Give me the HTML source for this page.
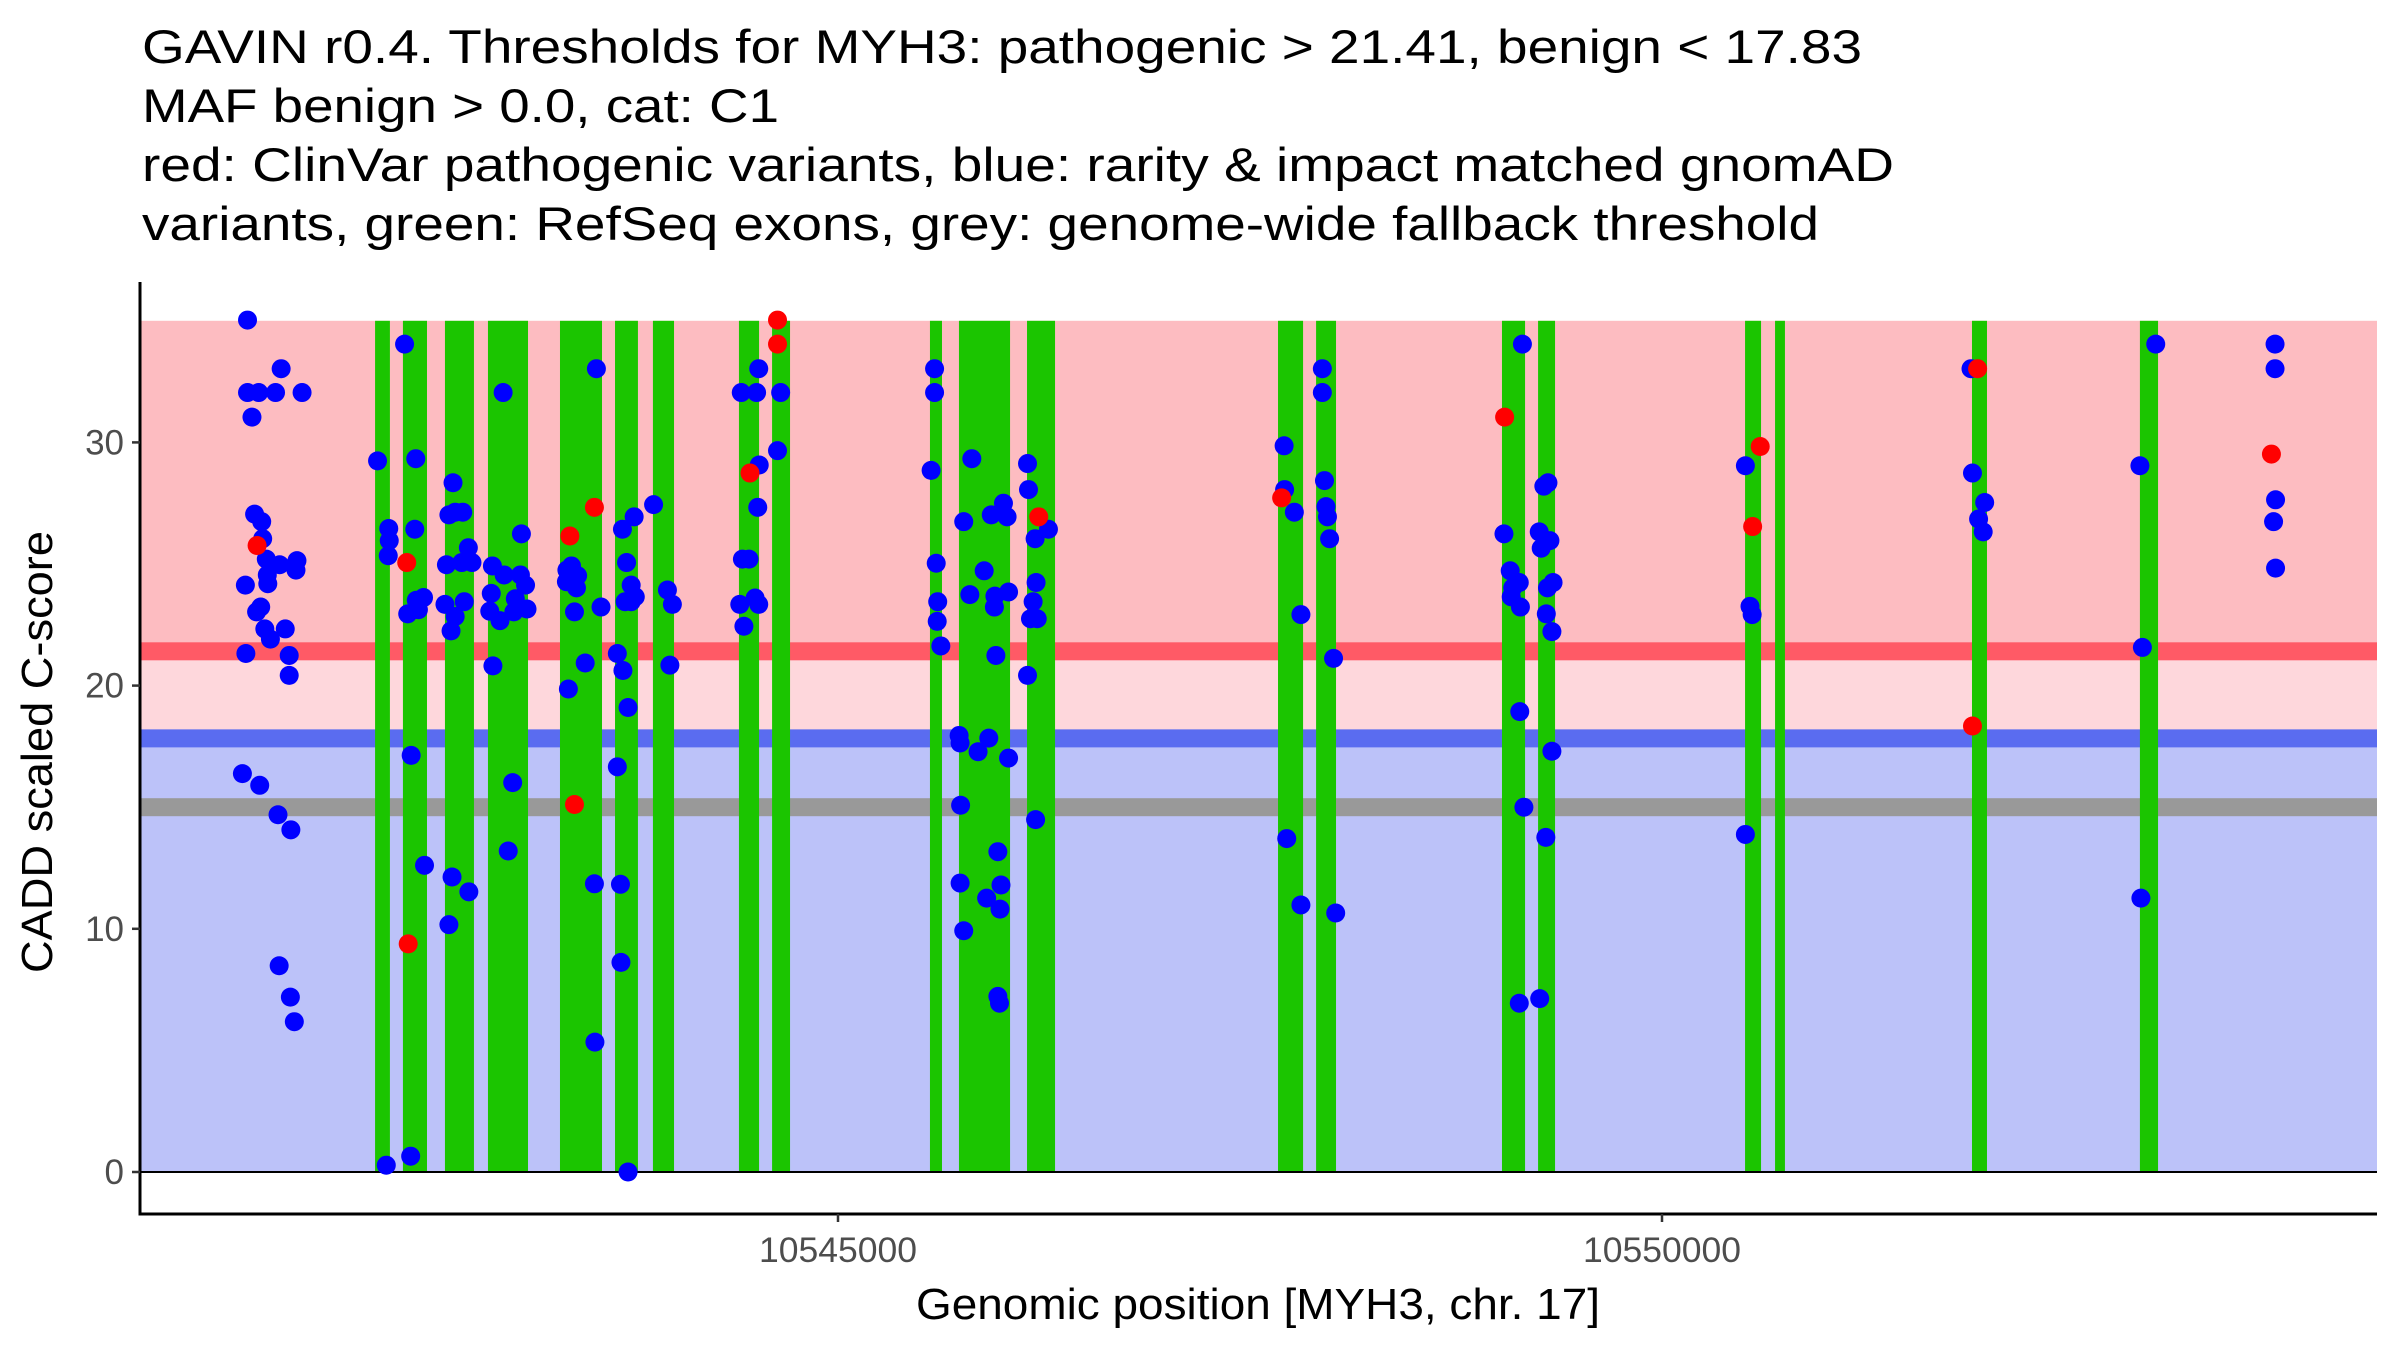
<!DOCTYPE html>
<html><head><meta charset="utf-8"><style>
html,body{margin:0;padding:0;background:#fff;}
svg{display:block;}
text{font-family:"Liberation Sans",Arial,sans-serif;}
</style></head><body>
<svg id="chart" width="2400" height="1350" viewBox="0 0 2400 1350" xmlns="http://www.w3.org/2000/svg">
<g font-size="47" fill="#000">
<text x="142" y="63" textLength="1720" lengthAdjust="spacingAndGlyphs">GAVIN r0.4. Thresholds for MYH3: pathogenic &gt; 21.41, benign &lt; 17.83</text>
<text x="142" y="122" textLength="637" lengthAdjust="spacingAndGlyphs">MAF benign &gt; 0.0, cat: C1</text>
<text x="142" y="181" textLength="1752" lengthAdjust="spacingAndGlyphs">red: ClinVar pathogenic variants, blue: rarity &amp; impact matched gnomAD</text>
<text x="142" y="240" textLength="1677" lengthAdjust="spacingAndGlyphs">variants, green: RefSeq exons, grey: genome-wide fallback threshold</text>
</g>
<g id="bands"></g>
<g id="exons"></g>
<g id="points"></g>
<g id="axes"></g>
<text transform="translate(52,752) rotate(-90)" text-anchor="middle" font-size="44" fill="#000" textLength="442" lengthAdjust="spacingAndGlyphs">CADD scaled C-score</text>
<text x="1258" y="1319" text-anchor="middle" font-size="44" fill="#000" textLength="684" lengthAdjust="spacingAndGlyphs">Genomic position [MYH3, chr. 17]</text>
</svg>
<script>
const yTicks = [0, 10, 20, 30];
const xTicks = [10545000, 10550000];
const pathoThreshold = 21.41;
const benignThreshold = 17.83;
const fallbackThreshold = 15;
const exonStarts = [10542191,10542360,10542615,10542876,10543313,10543647,10543877,10544399,10544600,10545558,10545734,10546147,10547670,10547901,10549029,10549248,10550504,10550686,10551881,10552900];
const exonEnds   = [10542281,10542506,10542791,10543119,10543568,10543786,10544005,10544521,10544709,10545631,10546044,10546317,10547822,10548022,10549169,10549351,10550601,10550746,10551972,10553010];
const benignPos = [10541417,10541417,10541485,10541587,10541748,10541444,10541621,10541460,10541503,10541509,10541531,10541612,10541717,10541711,10541537,10541404,10541540,10541497,10541472,10541522,10541556,10541646,10541407,10541670,10541670,10541386,10541491,10541602,10541680,10541609,10541677,10541701,
10542206,10542370,10542274,10542277,10542271,10542438,10542432,10542410,10542389,10542454,10542441,10542485,10542491,10542259,10542407,
10542664,10542639,10542677,10542723,10542624,10542717,10542779,10542757,10542615,10542677,10542732,10542652,10542658,10542760,10542639,
10542968,10543079,10542903,10542974,10543073,10543104,10542896,10543042,10542887,10542949,10543033,10543113,10542906,10543026,10542999,
10543355,10543383,10543420,10543352,10543413,10543401,10543534,10543562,10543466,10543364,10543522,10543525,
10543692,10543763,10543717,10543745,10543770,10543708,10543745,10543661,10543695,10543726,10543661,10543680,10543683,10543726,
10543881,10543965,10543995,10543980,
10544413,10544506,10544519,10544522,10544652,10544633,10544513,10544420,10544460,10544404,10544497,10544519,10544429,
10545586,10545586,10545565,10545596,10545605,10545602,10545624,
10545812,10545763,10546004,10545930,10546026,10545887,10545800,10545952,10546035,10545949,10545958,10545735,10545741,10545915,10545850,10546035,10545744,10545970,10545741,10545989,10545902,10545983,10545763,10545970,10545980,
10546150,10546156,10546277,10546196,10546202,10546184,10546168,10546209,10546150,10546199,
10547707,10547710,10547769,10547809,10547723,10547809,
10547939,10547939,10547952,10547961,10547970,10547983,10548007,10548020,
10549153,10549041,10549079,10549134,10549094,10549085,10549141,10549137,10549162,10549134,
10549283,10549308,10549255,10549320,10549267,10549339,10549305,10549298,10549332,10549332,10549295,10549258,
10550506,10550534,10550547,10550506,
10551875,10551884,10551958,10551921,10551949,
10552996,10552900,10552915,10552906,
10553720,10553720,10553711,10553723,10553723];
const benignScore = [35.03,32.05,32.05,32.05,32.05,31.04,33.03,27.05,26.74,26.04,25.2,24.97,25.14,24.75,24.55,24.13,24.19,23.23,23.03,22.33,21.91,22.33,21.32,21.24,20.42,16.38,15.9,14.69,14.07,8.48,7.19,6.18,
29.24,34.04,26.46,25.96,25.34,29.33,26.43,17.13,22.95,23.12,23.51,23.62,12.61,0.28,0.65,
28.34,27.02,27.13,27.13,24.97,25.06,25.06,25.67,23.34,22.84,23.45,22.25,12.13,11.52,10.17,
32.05,26.24,24.92,24.55,24.55,24.13,23.79,23.57,23.06,22.67,23.03,23.15,20.81,16.01,13.2,
24.75,24.92,24.52,24.27,24.02,23.03,33.03,23.23,20.93,19.86,11.85,5.34,
26.43,26.94,25.06,24.13,23.65,23.45,23.45,21.32,20.62,19.1,16.66,11.83,8.62,0,
27.44,23.93,23.34,20.84,
32.05,32.05,33.03,29.07,32.05,29.66,27.33,25.2,25.2,23.34,23.6,23.34,22.44,
33.03,32.05,28.85,25.03,23.45,22.64,21.63,
29.33,26.74,27.5,27.02,26.94,24.72,23.74,23.68,23.85,23.23,21.24,17.95,17.64,17.84,17.28,17.02,15.08,13.17,11.88,11.8,11.26,10.81,9.92,7.22,6.94,
29.13,28.06,26.43,26.04,24.24,23.45,22.75,22.75,20.42,14.49,
29.86,28.06,27.13,22.92,13.71,10.98,
33.03,32.05,28.43,27.36,26.94,26.04,21.12,10.65,
34.04,26.24,24.72,24.24,24.02,23.65,23.23,18.93,15.0,6.94,
28.2,28.34,26.32,25.96,25.65,24.24,24.02,22.95,22.22,17.3,13.76,7.13,
29.04,23.26,22.92,13.88,
33.03,28.74,27.53,26.85,26.32,
34.04,29.04,21.57,11.26,
34.04,33.03,26.74,27.64,24.83];
const pathoPos = [10541475,10542383,10542392,10543373,10543522,10543401,10544466,10544633,10544633,10546218,10547692,10549045,10550596,10550550,10551915,10551884,10553698];
const pathoScore = [25.76,25.06,9.38,26.15,27.33,15.11,28.74,35.03,34.04,26.94,27.72,31.04,29.83,26.54,33.03,18.34,29.52];

const NS = 'http://www.w3.org/2000/svg';
const X0 = 140, X1 = 2377;
function xScale(bp){ return 838 + (bp - 10545000) * 824 / 5000; }
function yScale(v){ return 1172 - v * 24.32; }
function mk(parent, tag, attrs){
  const el = document.createElementNS(NS, tag);
  for (const k in attrs) el.setAttribute(k, attrs[k]);
  parent.appendChild(el);
  return el;
}
const bands = document.getElementById('bands');
let r;
r = mk(bands, 'rect', {x:X0, y:yScale(35), width:X1-X0, height:yScale(pathoThreshold)-yScale(35), fill:'#FDBCC1'});


r = mk(bands, 'rect', {x:X0, y:yScale(pathoThreshold), width:X1-X0, height:yScale(benignThreshold)-yScale(pathoThreshold), fill:'#FED7DC'});


r = mk(bands, 'rect', {x:X0, y:yScale(benignThreshold), width:X1-X0, height:yScale(0)-yScale(benignThreshold), fill:'#BCC2F9'});


r = mk(bands, 'rect', {x:X0, y:yScale(pathoThreshold)-9, width:X1-X0, height:18, fill:'#FF5A66'});


r = mk(bands, 'rect', {x:X0, y:yScale(benignThreshold)-9, width:X1-X0, height:18, fill:'#5A6CF0'});


r = mk(bands, 'rect', {x:X0, y:yScale(fallbackThreshold)-9, width:X1-X0, height:18, fill:'#999999'});



const exG = document.getElementById('exons');
for (let i = 0; i < exonStarts.length; i++){
  const a = xScale(exonStarts[i]), b = xScale(exonEnds[i]);
  const e = mk(exG, 'rect', {x:a, y:yScale(35), width:b-a, height:yScale(0)-yScale(35), fill:'#1BC500'});
  
  
}
const zl = mk(exG, 'line', {x1:X0, x2:X1, y1:yScale(0), y2:yScale(0), stroke:'#000', 'stroke-width':2});



const pG = document.getElementById('points');
for (let i = 0; i < benignPos.length; i++){
  const c = mk(pG, 'circle', {cx:xScale(benignPos[i]), cy:yScale(benignScore[i]), r:9.5, fill:'#0000FF'});
  
  
}
for (let i = 0; i < pathoPos.length; i++){
  const c = mk(pG, 'circle', {cx:xScale(pathoPos[i]), cy:yScale(pathoScore[i]), r:9.5, fill:'#FF0000'});
  
  
}

const ax = document.getElementById('axes');
let l = mk(ax, 'line', {x1:X0, x2:X0, y1:282, y2:1215, stroke:'#000', 'stroke-width':3});


l = mk(ax, 'line', {x1:X0-1.5, x2:X1, y1:1214, y2:1214, stroke:'#000', 'stroke-width':3});


for (const t of yTicks){
  const y = yScale(t);
  const tk = mk(ax, 'line', {x1:X0-8, x2:X0, y1:y, y2:y, stroke:'#333', 'stroke-width':2.5});
  
  
  const tx = mk(ax, 'text', {x:X0-16, y:y+12, 'text-anchor':'end', 'font-size':35, fill:'#4D4D4D'});
  tx.textContent = t;
  
  
}
for (const t of xTicks){
  const x = xScale(t);
  const tk = mk(ax, 'line', {x1:x, x2:x, y1:1214, y2:1222, stroke:'#333', 'stroke-width':2.5});
  
  
  const tx = mk(ax, 'text', {x:x, y:1262, 'text-anchor':'middle', 'font-size':35, fill:'#4D4D4D', textLength:158, lengthAdjust:'spacingAndGlyphs'});
  tx.textContent = t;
  
  
}
</script>
</body></html>
